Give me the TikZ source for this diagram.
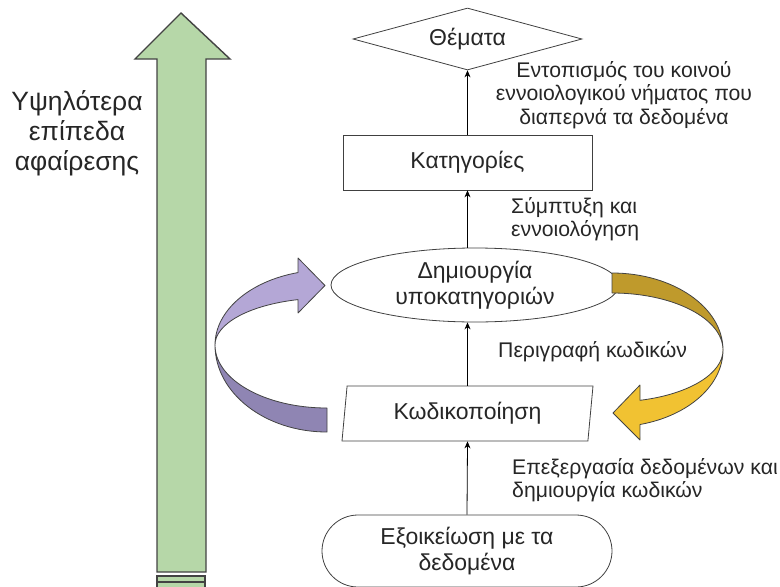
\documentclass[tikz,border=0pt]{standalone}
\usepackage{fontspec}
\setmainfont{Liberation Sans}
\usetikzlibrary{shapes.geometric,arrows.meta}

\definecolor{levelgreen}{HTML}{B6D7A8}
\definecolor{outlinegray}{HTML}{434343}
\definecolor{purplefront}{HTML}{B4A7D6}
\definecolor{purpleback}{HTML}{8F85B3}
\definecolor{goldfront}{HTML}{F1C232}
\definecolor{goldback}{HTML}{BF9A2C}
\definecolor{textgray}{HTML}{262626}

\tikzset{
  stagebox/.style={draw=black!75, line width=0.8pt, text=textgray,
    font=\fontsize{23}{26}\selectfont, align=center, inner sep=0pt},
  steplabel/.style={text=textgray, font=\fontsize{21.2}{23.5}\selectfont, inner sep=0pt},
  flow/.style={-{Stealth[length=7pt,width=6pt]}, line width=0.8pt, black},
  loopband/.style={draw=outlinegray, line width=0.8pt, line join=round}
}

\begin{document}
\begin{tikzpicture}[x=1pt,y=-1pt]
\useasboundingbox (0,0) rectangle (780,587);

% abstraction level arrow on the left
\filldraw[fill=levelgreen, draw=outlinegray, line width=1.4pt, line join=miter]
  (181,13) -- (230,59) -- (206,59) -- (206,572) -- (157,572) -- (157,59) -- (135,59) -- cycle;
\fill[levelgreen] (157,576) rectangle (205,588);
\draw[outlinegray, line width=1.4pt] (157,588) -- (157,576) -- (205,576) -- (205,588);
\draw[outlinegray, line width=2pt] (157,582) -- (205,582);

\node[text=textgray, font=\fontsize{26.5}{30}\selectfont, align=center, inner sep=0pt] (levels) at (77,133)
  {Υψηλότερα\\επίπεδα\\αφαίρεσης};

% stages
\node[stagebox, diamond, aspect=3.7, minimum width=229pt, minimum height=62pt] (themes) at (467.5,39) {Θέματα};
\node[stagebox, minimum width=249pt, minimum height=55pt] (cats) at (467.5,162.5) {Κατηγορίες};
\node[stagebox, ellipse, minimum width=288pt, minimum height=74pt] (subcats) at (475,285) {Δημιουργία\\υποκατηγοριών};
\node[stagebox, trapezium, trapezium left angle=77, trapezium right angle=103, trapezium stretches body,
      minimum width=251pt, minimum height=55pt] (coding) at (467.5,413.5) {Κωδικοποίηση};
\node[stagebox, rounded corners=36pt, minimum width=290pt, minimum height=72pt] (familiar) at (467,551)
  {Εξοικείωση με τα\\δεδομένα};

% connectors
\draw[flow] (familiar.north) -- (coding.south);
\draw[flow] (coding.north) -- (coding.north |- subcats.south);
\draw[flow] (cats.south |- subcats.north) -- (cats.south);
\draw[flow] (cats.north) -- (themes.south);

% step labels
\node[steplabel, align=center] (lthemes) at (624,95)
  {Εντοπισμός του κοινού\\εννοιολογικού νήματος που\\διαπερνά τα δεδομένα};
\node[steplabel, align=left, anchor=west] (lcats) at (511,219) {Σύμπτυξη και\\εννοιολόγηση};
\node[steplabel, anchor=west] (lsub) at (498,352) {Περιγραφή κωδικών};
\node[steplabel, align=left, anchor=west] (lcoding) at (512,480) {Επεξεργασία δεδομένων και\\δημιουργία κωδικών};

% purple loop arrow (coding -> subcategories)
\filldraw[loopband, fill=purpleback]
  (327,432) arc[start angle=-90, end angle=-180, x radius=112pt, y radius=87pt]
  arc[start angle=180, end angle=270, x radius=112pt, y radius=63pt] -- cycle;
\filldraw[loopband, fill=purplefront]
  (215,345) arc[start angle=180, end angle=105, x radius=112pt, y radius=75pt]
  -- (298,258) -- (325,285.5) -- (298,313) -- (298,299.6)
  arc[start angle=105, end angle=180, x radius=112pt, y radius=47pt] -- cycle;

% gold loop arrow (subcategories -> coding)
\filldraw[loopband, fill=goldback]
  (612,273) arc[start angle=90, end angle=0, x radius=111pt, y radius=77pt]
  arc[start angle=0, end angle=90, x radius=111pt, y radius=57pt] -- cycle;
\filldraw[loopband, fill=goldfront]
  (723,350) arc[start angle=0, end angle=-75.4, x radius=111pt, y radius=77pt]
  -- (640,440) -- (613,413) -- (640,385) -- (640,400.3)
  arc[start angle=-75.4, end angle=0, x radius=111pt, y radius=52pt] -- cycle;
\end{tikzpicture}
\end{document}
